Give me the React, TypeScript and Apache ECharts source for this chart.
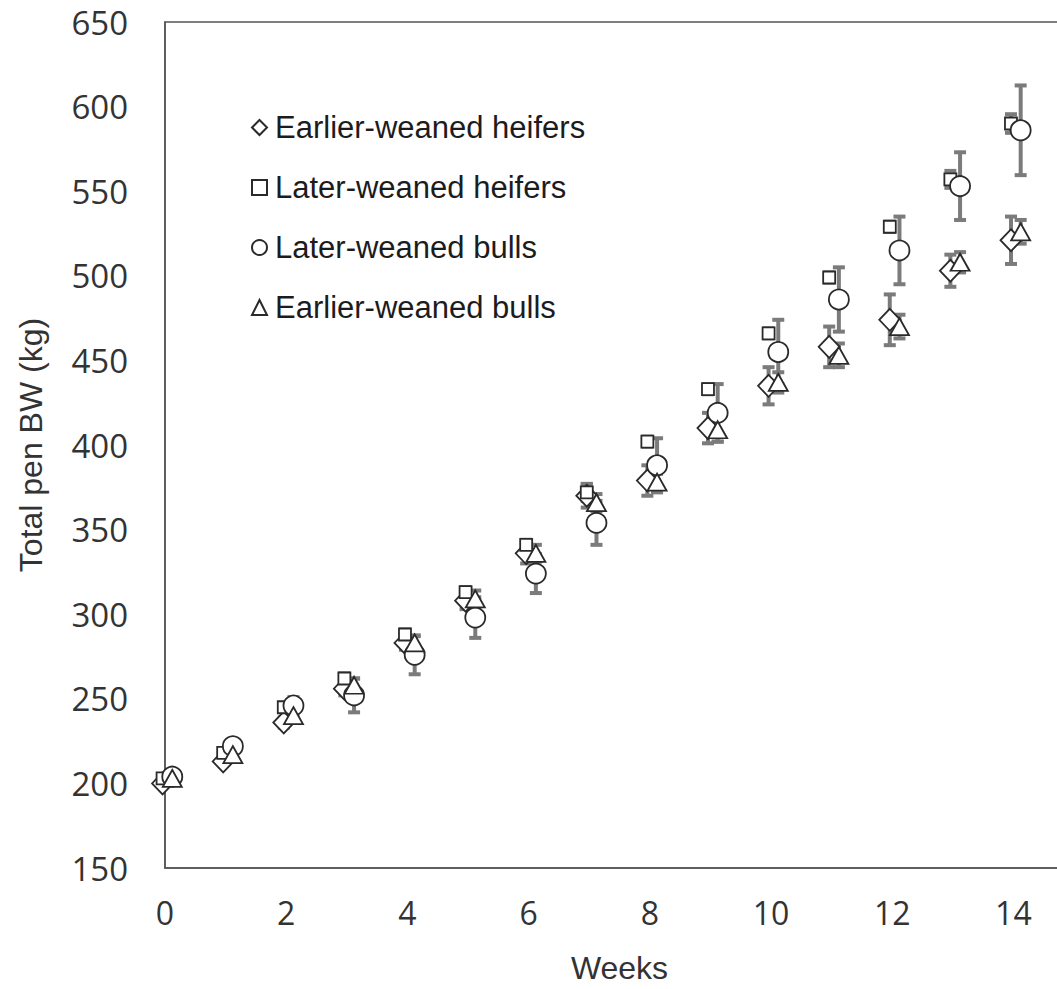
import React, { useEffect, useRef } from "react";
import * as echarts from "echarts";

const weeks = [0, 1, 2, 3, 4, 5, 6, 7, 8, 9, 10, 11, 12, 13, 14];
const xTicks = [0, 2, 4, 6, 8, 10, 12, 14];
const yTicks = [150, 200, 250, 300, 350, 400, 450, 500, 550, 600, 650];

const seriesNames = [
  "Earlier-weaned heifers",
  "Later-weaned heifers",
  "Later-weaned bulls",
  "Earlier-weaned bulls",
];

const earlyHeifers = [200, 213, 236, 256, 283, 308, 336, 370, 379, 410, 435, 458, 474, 503, 521];
const earlyHeifersErr = [2, 2, 3, 4, 4, 5, 6, 7, 9, 9, 11, 12, 15, 9.5, 14];

const lateHeifers = [203, 218, 245, 262, 288, 313, 341, 372, 402, 433, 466, 499, 529, 557, 590];
const lateHeifersErr = [2, 2, 2, 3, 3, 3, 3, 5, 3, 3, 3, 3, 3, 5, 5.5];

const lateBulls = [204, 222, 246, 252, 276, 298, 324, 354, 388, 419, 455, 486, 515, 553, 586];
const lateBullsErr = [3, 4, 5, 10, 11.5, 12, 11.5, 13, 16, 17, 19, 19, 20, 20, 26.5];

const earlyBulls = [203, 217, 240, 258, 283, 309, 336, 366, 378, 409, 437, 453, 470, 508, 526];
const earlyBullsErr = [2, 2, 3, 4, 4, 5, 5, 5, 5, 7, 6, 7, 7, 6, 7];

const values = [earlyHeifers, lateHeifers, lateBulls, earlyBulls];
const errors = [earlyHeifersErr, lateHeifersErr, lateBullsErr, earlyBullsErr];
const symbols = ["diamond", "rect", "circle", "triangle"];
const symbolSizes: any[] = [[21, 22], [12, 12], [20, 20], [19, 17]];
const jitter = [-0.04, -0.04, 0.12, 0.12];

const ERR_COLOR = "#7b7b7b";
const MARK_COLOR = "#2a2a2a";
const TEXT_COLOR = "#333333";

export default function App() {
  const ref = useRef<HTMLDivElement>(null);

  useEffect(() => {
    if (!ref.current) return;
    const chart = echarts.init(ref.current, undefined, { renderer: "svg" });

    const errSeries = values.map((vals, si) => ({
      type: "custom",
      name: "err-" + si,
      z: 1,
      clip: false,
      silent: true,
      encode: { x: 0, y: [1, 2] },
      data: weeks.map((w, i) => [w + jitter[si], vals[i] - errors[si][i], vals[i] + errors[si][i]]),
      renderItem: (params: any, api: any) => {
        const x = api.value(0);
        const lo = api.coord([x, api.value(1)]);
        const hi = api.coord([x, api.value(2)]);
        const cap = 6;
        const st = { stroke: ERR_COLOR, lineWidth: 4 };
        return {
          type: "group",
          children: [
            { type: "line", shape: { x1: lo[0], y1: lo[1], x2: hi[0], y2: hi[1] }, style: st },
            { type: "line", shape: { x1: lo[0] - cap, y1: lo[1], x2: lo[0] + cap, y2: lo[1] }, style: st },
            { type: "line", shape: { x1: hi[0] - cap, y1: hi[1], x2: hi[0] + cap, y2: hi[1] }, style: st },
          ],
        };
      },
    }));

    const scatterSeries = values.map((vals, si) => ({
      type: "scatter",
      name: seriesNames[si],
      z: 3,
      clip: false,
      symbol: symbols[si],
      symbolSize: symbolSizes[si],
      itemStyle: { color: "#ffffff", borderColor: MARK_COLOR, borderWidth: 1.8, opacity: 1 },
      emphasis: { disabled: true },
      data: weeks.map((w, i) => [w + jitter[si], vals[i]]),
    }));

    chart.setOption({
      animation: false,
      backgroundColor: "#ffffff",
      grid: {
        left: 165,
        top: 22,
        width: 909,
        height: 846,
        show: true,
        borderColor: "#555555",
        borderWidth: 1.5,
        containLabel: false,
      },
      legend: {
        orient: "vertical",
        left: 246,
        top: 107,
        itemWidth: 15,
        itemHeight: 15,
        itemGap: 29,
        selectedMode: false,
        data: seriesNames,
        textStyle: {
          fontFamily: "Liberation Sans",
          fontSize: 31,
          lineHeight: 31,
          color: "#1c1c1c",
          padding: [0, 0, 0, 3],
        },
      },
      xAxis: {
        type: "value",
        min: 0,
        max: 15,
        interval: 2,
        name: "Weeks",
        nameLocation: "middle",
        nameGap: 84,
        nameTextStyle: { fontFamily: "Liberation Sans", fontSize: 32, color: TEXT_COLOR },
        axisLine: { show: true, lineStyle: { color: "#555555", width: 1.5 } },
        axisTick: { show: false },
        splitLine: { show: false },
        axisLabel: {
          showMaxLabel: false,
          margin: 28,
          fontFamily: "Open Sans",
          fontSize: 32,
          color: TEXT_COLOR,
          formatter: (v: number) => (xTicks.includes(v) ? String(v) : ""),
        },
      },
      yAxis: {
        type: "value",
        min: yTicks[0],
        max: yTicks[yTicks.length - 1],
        interval: 50,
        name: "Total pen BW (kg)",
        nameLocation: "middle",
        nameGap: 118,
        nameRotate: 90,
        nameTextStyle: { fontFamily: "Liberation Sans", fontSize: 32, color: TEXT_COLOR },
        axisLine: { show: true, lineStyle: { color: "#555555", width: 1.5 } },
        axisTick: { show: false },
        splitLine: { show: false },
        axisLabel: {
          margin: 37,
          fontFamily: "Open Sans",
          fontSize: 33,
          color: TEXT_COLOR,
        },
      },
      series: [...errSeries, ...scatterSeries],
    });

    return () => chart.dispose();
  }, []);

  return (
    <div style={{ position: "fixed", left: 0, top: 0, width: 1057, height: 989, overflow: "hidden", background: "#fff" }}>
      <div ref={ref} style={{ width: 1100, height: 989 }} />
    </div>
  );
}
